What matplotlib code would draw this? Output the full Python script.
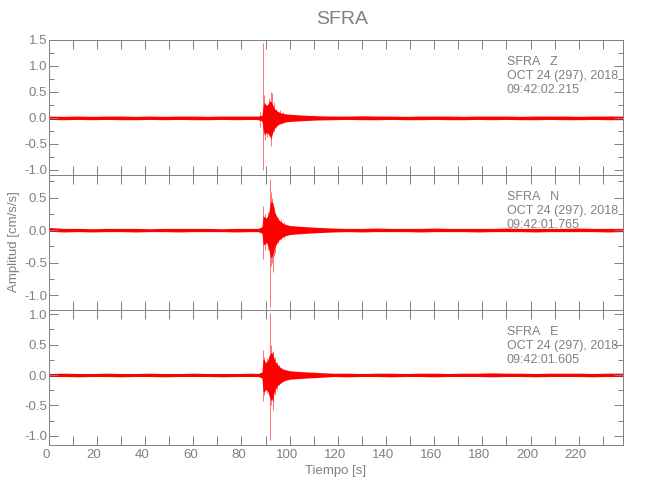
import numpy as np
import matplotlib
matplotlib.use('Agg')
import matplotlib.pyplot as plt
from matplotlib import transforms
from matplotlib.ticker import MultipleLocator

# shared time grid [s] for the envelopes
t = [0, 6, 12, 18, 24, 30, 36, 42, 48, 54, 60, 66, 72, 78, 84,
     87, 88.5, 89, 89.5, 90, 90.5, 91, 91.5, 92, 92.5, 93, 93.5, 94,
     95, 96, 97, 98, 100, 103, 107, 112,
     118, 124, 130, 136, 142, 148, 154, 160, 166, 172, 178, 184, 190, 196, 202, 208, 214, 220, 226, 232, 238.4]

# Z component: dense core envelope
z_up = [0.035, 0.03, 0.035, 0.03, 0.035, 0.035, 0.03, 0.035, 0.03, 0.035, 0.035, 0.03, 0.035, 0.035, 0.035,
        0.035, 0.05, 0.22, 0.30, 0.26, 0.24, 0.27, 0.31, 0.33, 0.30, 0.25, 0.20, 0.16,
        0.13, 0.10, 0.09, 0.08, 0.07, 0.06, 0.05, 0.04,
        0.035, 0.035, 0.04, 0.035, 0.035, 0.03, 0.035, 0.035, 0.035, 0.03, 0.035, 0.035, 0.035, 0.03, 0.035, 0.035, 0.035, 0.03, 0.035, 0.035, 0.035]
z_lo = [-0.03, -0.035, -0.03, -0.035, -0.03, -0.035, -0.035, -0.03, -0.035, -0.03, -0.035, -0.035, -0.03, -0.035, -0.03,
        -0.035, -0.06, -0.22, -0.33, -0.30, -0.28, -0.30, -0.34, -0.38, -0.33, -0.28, -0.22, -0.18,
        -0.14, -0.11, -0.10, -0.08, -0.07, -0.06, -0.05, -0.04,
        -0.035, -0.03, -0.035, -0.035, -0.03, -0.035, -0.035, -0.03, -0.035, -0.035, -0.03, -0.035, -0.03, -0.035, -0.035, -0.03, -0.035, -0.035, -0.03, -0.035, -0.035]

# N component
n_up = [0.04, 0.025, 0.025, 0.02, 0.025, 0.025, 0.025, 0.02, 0.025, 0.025, 0.025, 0.025, 0.02, 0.025, 0.025,
        0.025, 0.05, 0.22, 0.20, 0.18, 0.20, 0.22, 0.30, 0.42, 0.45, 0.40, 0.32, 0.26,
        0.18, 0.14, 0.11, 0.09, 0.07, 0.06, 0.05, 0.04,
        0.03, 0.025, 0.025, 0.03, 0.025, 0.025, 0.025, 0.03, 0.025, 0.025, 0.025, 0.025, 0.03, 0.025, 0.025, 0.025, 0.025, 0.03, 0.025, 0.025, 0.025]
n_lo = [-0.02, -0.03, -0.025, -0.03, -0.025, -0.025, -0.03, -0.025, -0.025, -0.03, -0.025, -0.025, -0.025, -0.03, -0.025,
        -0.025, -0.05, -0.23, -0.22, -0.20, -0.20, -0.25, -0.32, -0.42, -0.42, -0.38, -0.30, -0.25,
        -0.18, -0.14, -0.11, -0.09, -0.07, -0.06, -0.05, -0.04,
        -0.03, -0.025, -0.03, -0.025, -0.025, -0.025, -0.03, -0.025, -0.025, -0.025, -0.03, -0.025, -0.025, -0.025, -0.03, -0.025, -0.025, -0.025, -0.025, -0.03, -0.025]

# E component
e_up = [0.025, 0.03, 0.025, 0.025, 0.03, 0.025, 0.025, 0.03, 0.025, 0.025, 0.03, 0.025, 0.025, 0.025, 0.03,
        0.025, 0.05, 0.26, 0.25, 0.20, 0.22, 0.25, 0.32, 0.35, 0.38, 0.33, 0.28, 0.22,
        0.17, 0.13, 0.10, 0.09, 0.07, 0.06, 0.05, 0.04,
        0.03, 0.03, 0.025, 0.03, 0.03, 0.025, 0.03, 0.03, 0.025, 0.03, 0.03, 0.035, 0.03, 0.03, 0.025, 0.03, 0.03, 0.03, 0.025, 0.03, 0.03]
e_lo = [-0.025, -0.025, -0.03, -0.025, -0.025, -0.03, -0.025, -0.025, -0.03, -0.025, -0.025, -0.025, -0.03, -0.025, -0.025,
        -0.025, -0.05, -0.27, -0.28, -0.24, -0.25, -0.27, -0.35, -0.40, -0.42, -0.38, -0.30, -0.24,
        -0.17, -0.14, -0.11, -0.09, -0.07, -0.06, -0.05, -0.04,
        -0.025, -0.03, -0.025, -0.025, -0.03, -0.025, -0.025, -0.03, -0.025, -0.025, -0.025, -0.03, -0.025, -0.025, -0.03, -0.025, -0.025, -0.025, -0.03, -0.025, -0.025]

# isolated spikes (time, max, min)
z_spk_t = [87.6, 88.75, 89.4, 89.7, 90.7, 91.6, 92.1, 92.4, 92.8, 93.7, 94.5, 95.8, 97.2]
z_spk_hi = [0.12, 1.44, 0.44, 0.20, 0.20, 0.38, 0.49, 0.30, 0.47, 0.31, 0.18, 0.15, 0.12]
z_spk_lo = [-0.17, -1.01, -0.25, -0.42, -0.36, -0.30, -0.40, -0.55, -0.35, -0.26, -0.20, -0.12, -0.10]

n_spk_t = [88.9, 89.6, 91.1, 91.95, 92.3, 92.7, 93.1, 93.6, 94.1, 95.2, 96.4, 97.8]
n_spk_hi = [0.37, 0.25, 0.28, 0.79, 0.59, 0.50, 0.41, 0.35, 0.25, 0.20, 0.16, 0.12]
n_spk_lo = [-0.44, -0.30, -0.30, -1.18, -0.55, -0.50, -0.64, -0.40, -0.36, -0.20, -0.15, -0.12]

e_spk_t = [89.0, 89.5, 90.8, 91.9, 92.3, 92.9, 93.3, 93.9, 94.6, 95.7, 97.0]
e_spk_hi = [0.41, 0.30, 0.28, 1.02, 0.50, 0.38, 0.40, 0.30, 0.22, 0.17, 0.12]
e_spk_lo = [-0.43, -0.32, -0.30, -1.06, -0.50, -0.45, -0.57, -0.32, -0.25, -0.16, -0.12]

station = 'SFRA'
comps = ['Z', 'N', 'E']
dates = ['OCT 24 (297), 2018'] * 3
times = ['09:42:02.215', '09:42:01.765', '09:42:01.605']

plt.rcParams['font.family'] = ['Liberation Sans', 'DejaVu Sans']

grey = '#808080'
fig = plt.figure(figsize=(6.5, 5), dpi=100)

traces = [(z_up, z_lo, z_spk_t, z_spk_hi, z_spk_lo),
          (n_up, n_lo, n_spk_t, n_spk_hi, n_spk_lo),
          (e_up, e_lo, e_spk_t, e_spk_hi, e_spk_lo)]
ylims = [(-1.1, 1.5), (-1.23, 0.846), (-1.148, 1.066)]
bottoms = [0.65, 0.38, 0.11]

for i in range(3):
    up, lo, st, sh, sl = traces[i]
    ax = fig.add_axes([0.075, bottoms[i], 0.8835, 0.27])
    ax.fill_between(t, lo, up, color='red', lw=0)
    ax.vlines(st, sl, sh, color='red', lw=0.7, alpha=0.55)
    ax.set_xlim(0, 238.4)
    ax.set_ylim(*ylims[i])
    ax.xaxis.set_major_locator(MultipleLocator(20))
    ax.xaxis.set_minor_locator(MultipleLocator(10))
    ax.yaxis.set_major_locator(MultipleLocator(0.5))
    ax.yaxis.set_minor_locator(MultipleLocator(0.25))
    ax.tick_params(which='both', direction='in', top=True, right=True,
                   color=grey, labelcolor=grey, labelsize=9.5, width=0.7)
    ax.tick_params(axis='x', which='both', length=6.5, pad=3)
    ax.tick_params(axis='y', which='major', length=6.5, pad=1)
    ax.tick_params(axis='y', which='minor', length=3.5)
    for sp in ax.spines.values():
        sp.set_color(grey)
        sp.set_linewidth(0.7)
    if i < 2:
        ax.set_xticklabels([])
    else:
        off = transforms.ScaledTranslation(-3 / 100, 0, fig.dpi_scale_trans)
        for lab in ax.get_xticklabels():
            lab.set_transform(lab.get_transform() + off)
    ax.yaxis.set_major_formatter(plt.FuncFormatter(lambda v, p: '%.1f' % v))

    # header text in the upper right
    lines = [station + '   ' + comps[i], dates[i], times[i]]
    for k, s in enumerate(lines):
        ax.text(0.7975, 1 - (21.7 + 14.2 * k) / 135, s, transform=ax.transAxes,
                ha='left', va='center', fontsize=9, color=grey)

fig.text(342 / 650, 1 - 20 / 500, station, ha='center', va='center', fontsize=14, color=grey)
fig.text(336 / 650, 1 - 471 / 500, 'Tiempo [s]', ha='center', va='center', fontsize=9.5, color=grey)
fig.text(14 / 650, 1 - 242 / 500, 'Amplitud [cm/s/s]', ha='center', va='center',
         rotation=90, fontsize=9.5, color=grey)

fig.savefig('out.png', dpi=100)
